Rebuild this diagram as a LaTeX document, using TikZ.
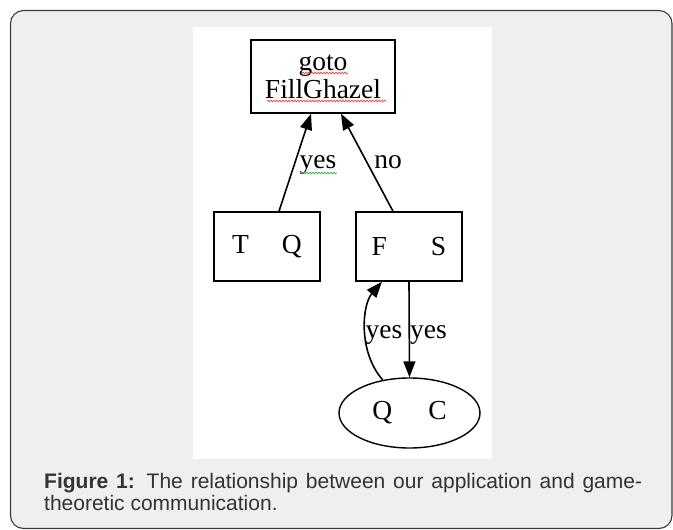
\documentclass[tikz,border=0pt]{standalone}
\usepackage{fontspec}
\setmainfont{Liberation Serif}
\newfontfamily\capfont{Liberation Sans}
\usetikzlibrary{arrows.meta,shapes.geometric,decorations.pathmorphing}
\definecolor{panelbg}{RGB}{239,239,241}
\definecolor{framegray}{RGB}{60,60,60}
\definecolor{captext}{RGB}{51,51,51}
\definecolor{spellred}{RGB}{240,70,70}
\definecolor{spellgreen}{RGB}{70,170,70}
\begin{document}
\begin{tikzpicture}[x=1pt,y=-1pt,
  lbl/.style={font=\fontsize{27.5}{28}\selectfont, inner sep=0pt},
  box/.style={draw=black, line width=1.5pt, fill=white, inner sep=0pt, lbl, align=center},
  oval/.style={ellipse, draw=black, line width=1.4pt, fill=white, inner sep=0pt, lbl},
  edge/.style={line width=1.6pt, -{Triangle[length=16pt,width=12pt]}},
  squiggle/.style={decorate, decoration={snake, segment length=3pt, amplitude=0.9pt}, line width=0.7pt},
  captxt/.style={anchor=base west, inner sep=0pt, text=captext, font=\capfont\fontsize{21}{22}\selectfont}
]
\useasboundingbox (0,0) rectangle (673,530);
% outer frame and white drawing panel
\draw[fill=panelbg, draw=framegray, line width=1.1pt, rounded corners=13pt] (10.5,10.5) rectangle (672,528.5);
\fill[white] (193,27) rectangle (492,459);

% nodes
\node[box, minimum width=144pt, minimum height=73pt] (goto) at (323,76.5) {goto\\FillGhazel};
\node[box, minimum width=106pt, minimum height=69pt] (tq) at (267,246.5) {T\hspace{33pt}Q};
\node[box, minimum width=106pt, minimum height=69pt] (fs) at (409,246.5) {F\hspace{44pt}S};
\node[oval, minimum width=141pt, minimum height=70pt] (qc) at (409.5,413) {Q\hspace{36pt}C};

% connectors
\draw[edge] ([xshift=12pt]tq.north) -- ([xshift=-12pt]goto.south);
\draw[edge] ([xshift=-16pt]fs.north) -- ([xshift=18pt]goto.south);
\draw[edge] (fs.south) -- (qc.north);
\draw[edge] (qc.129) .. controls (358,352) and (362,305) .. ([xshift=-27pt]fs.south);

% connector labels
\node[lbl, anchor=base] (l1) at (318,168) {yes};
\node[lbl, anchor=base] (l2) at (388,168) {no};
\node[lbl, anchor=base] (l3) at (384,338) {yes};
\node[lbl, anchor=base] (l4) at (428.5,338) {yes};

% spell-check underlines
\draw[squiggle, spellred] (302,73) -- (348,73);
\draw[squiggle, spellred] (267,101) -- (386,101);
\draw[squiggle, spellgreen] (300,173) -- (337,173);

% caption
\node[captxt] (cap1) at (44,488) {\makebox[598pt][s]{\bfseries Figure 1:\mdseries{} The relationship between our application and game-}};
\node[captxt] (cap2) at (44,510) {theoretic communication.};
\end{tikzpicture}
\end{document}
